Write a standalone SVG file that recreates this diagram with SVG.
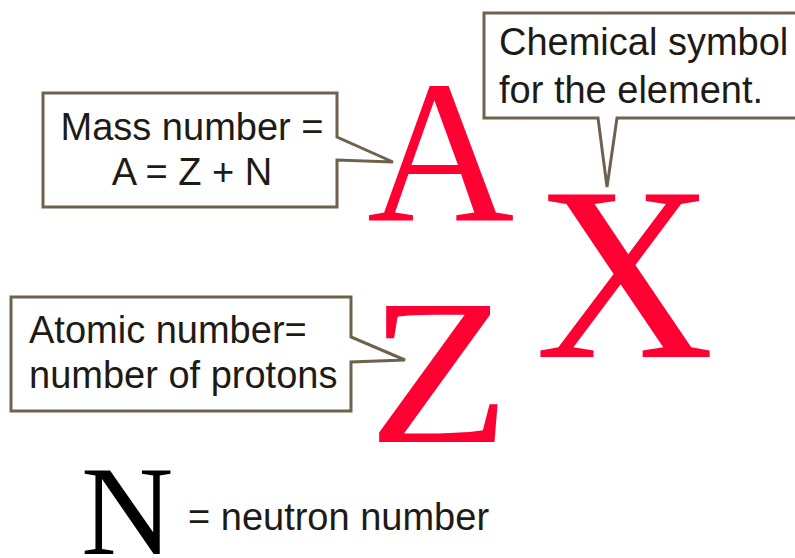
<svg xmlns="http://www.w3.org/2000/svg" width="795" height="558" viewBox="0 0 795 558">
<style>
.box{fill:#fff;stroke:#6e624c;stroke-width:3;stroke-linejoin:miter}
.lbl{font-family:"Liberation Sans",Arial,sans-serif;font-size:38px;fill:#1e1a14}
.big{font-family:"Liberation Serif","Times New Roman",serif;fill:#ff0033}
</style>
<rect width="795" height="558" fill="#fff"/>
<g id="mass-number">
<path class="box" d="M43,93 H337 V137 L393,162 L337,160 V207 H43 Z"/>
<text class="lbl" x="192" y="140" text-anchor="middle">Mass number =</text>
<text class="lbl" x="192" y="185" text-anchor="middle">A = Z + N</text>
</g>
<g id="chemical-symbol">
<path class="box" d="M484,13 H800 V118 H617 L607,187 L598,118 H484 Z"/>
<text class="lbl" x="499" y="55">Chemical symbol</text>
<text class="lbl" x="499" y="103">for the element.</text>
</g>
<g id="atomic-number">
<path class="box" d="M11,297 H351 V337 L405,360 L351,362 V411 H11 Z"/>
<text class="lbl" x="29" y="343">Atomic number=</text>
<text class="lbl" x="29" y="388">number of protons</text>
</g>
<g id="symbol-A"><text class="big" x="367" y="220" font-size="204">A</text></g>
<g id="symbol-Z"><text class="big" transform="translate(368 442) scale(1.12 1)" x="0" y="0" font-size="208">Z</text></g>
<g id="symbol-X"><text class="big" x="535" y="357" font-size="248">X</text></g>
<g id="neutron-number">
<text x="81" y="554" font-family="'Liberation Serif','Times New Roman',serif" font-size="128" fill="#000">N</text>
<text class="lbl" x="188" y="530">= neutron number</text>
</g>
</svg>
